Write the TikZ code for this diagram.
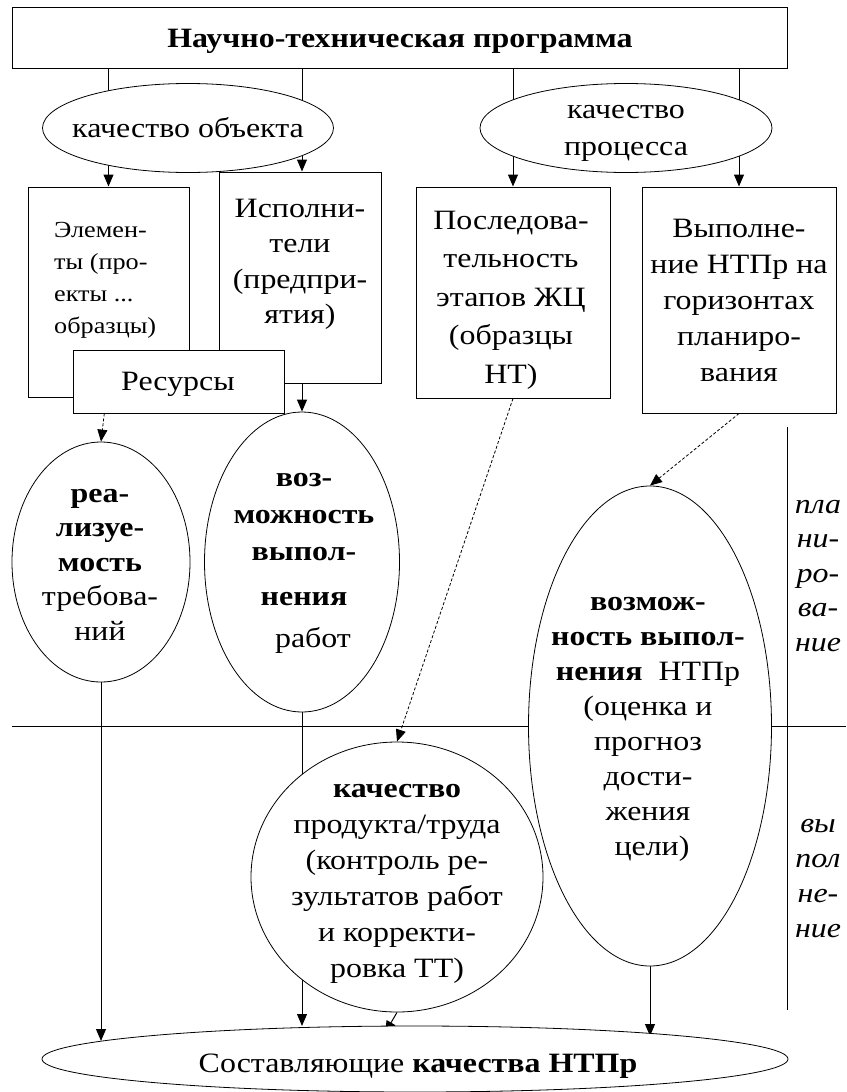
\documentclass[tikz,border=0pt]{standalone}
\usepackage{fontspec}
\setmainfont{Liberation Serif}[FakeStretch=1.14]
\usetikzlibrary{shapes.geometric,arrows.meta,calc}
\pgfdeclarelayer{bg}
\pgfsetlayers{bg,main}
\begin{document}
\begin{tikzpicture}[x=1pt,y=-1pt,
  bx/.style={draw, rectangle, line width=1pt, fill=white, inner sep=0pt},
  el/.style={draw, ellipse, line width=0.8pt, fill=white, inner sep=0pt},
  txt/.style={align=center, inner sep=0pt, anchor=base, font=\fontsize{28}{36}\selectfont},
  arr/.style={-{Triangle[length=12pt,width=10pt]}, line width=1pt},
  darr/.style={-{Triangle[length=12pt,width=10pt]}, line width=0.8pt, dash pattern=on 3pt off 2pt},
  plain/.style={line width=1pt}]
\useasboundingbox (0,0) rectangle (846,1092);
% shapes
\node[bx, minimum width=775pt, minimum height=61pt] (top) at (399.5,37.5) {};
\node[el, minimum width=291pt, minimum height=89pt] (oq) at (188,128) {};
\node[el, minimum width=292pt, minimum height=89pt] (pq) at (626,128) {};
\node[bx, minimum width=161pt, minimum height=210pt] (elem) at (108.5,292) {};
\node[bx, minimum width=162pt, minimum height=211pt] (isp) at (300,277.5) {};
\node[bx, minimum width=211pt, minimum height=63pt] (res) at (178.5,381.5) {};
\node[bx, minimum width=194pt, minimum height=211pt] (posl) at (513,292.5) {};
\node[bx, minimum width=194pt, minimum height=226pt] (vyp) at (739,300) {};
\node[el, minimum width=178pt, minimum height=240pt] (real) at (101,562) {};
\node[el, minimum width=195pt, minimum height=300pt] (voz) at (302,562) {};
\node[el, minimum width=243pt, minimum height=480pt] (vnt) at (650,726) {};
\node[el, minimum width=292pt, minimum height=270pt] (kp) at (397,877) {};
\node[el, minimum width=746pt, minimum height=66pt] (sost) at (415,1059) {};
% helper coordinates
\coordinate (t1) at (101,1041);
\coordinate (t2) at (302,1026);
\coordinate (t3) at (385,1033);
\coordinate (t4) at (650,1036);
\coordinate (hl) at (12,726);
\coordinate (hr) at (846,726);
\coordinate (vt) at (787,427);
\coordinate (vb) at (787,1010);
% connectors
\begin{pgfonlayer}{bg}
\draw[arr] (top.south -| elem.north) -- (elem.north);
\draw[arr] (top.south -| voz.north) -- (isp.north -| voz.north);
\draw[arr] (top.south -| posl.north) -- (posl.north);
\draw[arr] (top.south -| vyp.north) -- (vyp.north);
\draw[arr] (isp.south -| voz.north) -- (voz.north);
\draw[darr] ($(res.south west)!0.15!(res.south east)$) -- (real.north);
\draw[darr] (posl.south) -- (kp.north);
\draw[darr] (vyp.south) -- (vnt.north);
\draw[arr] (real.south) -- (t1);
\draw[arr] (voz.south) -- (t2);
\draw[arr] (kp.south) -- (t3);
\draw[arr] (vnt.south) -- (t4);
\draw[plain] (hl) -- (hr);
\draw[plain] (vt) -- (vb);
\end{pgfonlayer}
% texts (anchor = baseline of the last line)
\node[txt, font=\bfseries\fontsize{28}{36}\selectfont] (ttl) at (400,47) {Научно-техническая программа};
\node[txt] (oqt) at (188,137) {качество объекта};
\node[txt, font=\fontsize{28}{37}\selectfont] (pqt) at (626,155) {качество\\процесса};
\node[txt, align=left, font=\fontsize{23}{32}\selectfont, anchor=base west] (elt) at (54,333) {Элемен-\\ты (про-\\екты ...\\образцы)};
\node[txt, font=\fontsize{28}{35.5}\selectfont] (ispt) at (300,323.5) {Исполни-\\тели\\(предпри-\\ятия)};
\node[txt] (rest) at (178,390) {Ресурсы};
\node[txt, font=\fontsize{28}{38.5}\selectfont] (poslt) at (511,383) {Последова-\\тельность\\этапов ЖЦ\\(образцы\\НТ)};
\node[txt, font=\fontsize{28}{36}\selectfont] (vypt) at (739,381) {Выполне-\\ние НТПр на\\горизонтах\\планиро-\\вания};
\node[txt, font=\fontsize{28}{34.5}\selectfont] (realt) at (100,640) {\textbf{реа-}\\\textbf{лизуе-}\\\textbf{мость}\\требова-\\ний};
\node[txt, font=\fontsize{28}{37}\selectfont] (vozt) at (304,647) {\textbf{воз-}\\\textbf{можность}\\\textbf{выпол-}\\[8pt]\textbf{нения}\\[5pt]\hspace*{18pt}работ};
\node[txt, font=\fontsize{28}{35}\selectfont] (vntt) at (648,855) {\textbf{возмож-}\\\textbf{ность выпол-}\\\textbf{нения}\ \ НТПр\\(оценка и\\прогноз\\дости-\\жения\\\ цели)};
\node[txt, font=\fontsize{28}{36}\selectfont] (kpt) at (397,977) {\textbf{качество}\\продукта/труда\\(контроль ре-\\зультатов работ\\и корректи-\\ровка ТТ)};
\node[txt] (sostt) at (418,1072) {Составляющие \textbf{качества НТПр}};
\node[txt, font=\itshape\fontsize{28}{34.5}\selectfont] (plt) at (818,651) {пла\\ни-\\ро-\\ва-\\ние};
\node[txt, font=\itshape\fontsize{28}{35}\selectfont] (vpt) at (818,937) {вы\\пол\\не-\\ние};
\end{tikzpicture}
\end{document}
